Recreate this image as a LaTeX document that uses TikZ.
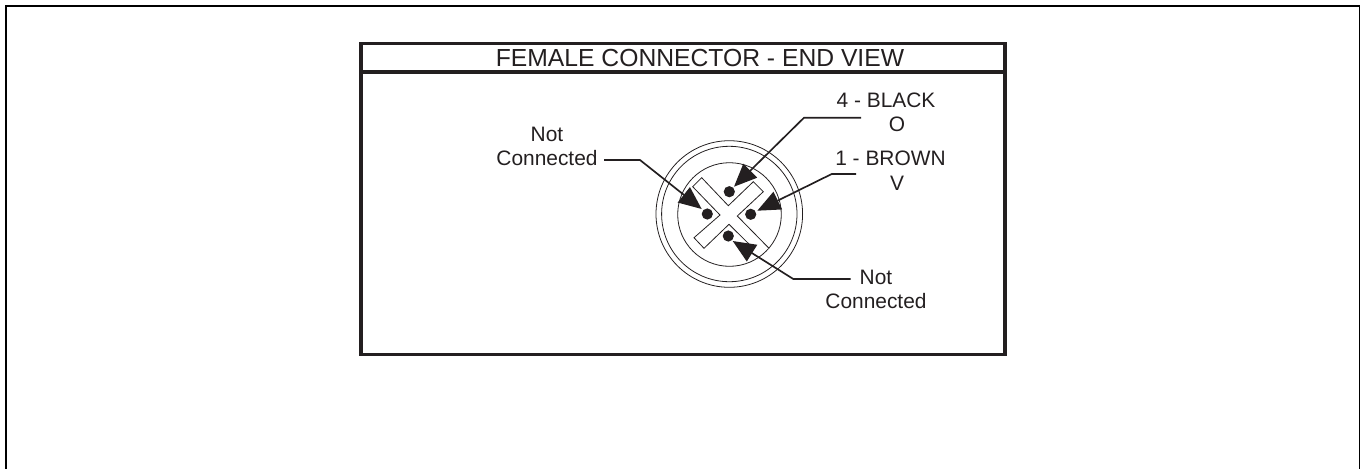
\documentclass[tikz,border=0pt]{standalone}
\usepackage{fontspec}
\setmainfont{Liberation Sans}
\usetikzlibrary{arrows.meta}
\definecolor{inkblack}{HTML}{231F20}
\tikzset{
	leader/.style={line width=0.95pt, color=inkblack, -{Triangle[length=13pt, width=11pt]}},
	thinline/.style={line width=0.45pt, color=inkblack},
	frameline/.style={line width=2pt, color=inkblack},
	callout/.style={anchor=base, font=\fontsize{11.9}{13.4}\selectfont, color=inkblack, inner sep=0pt},
}

\begin{document}
\begin{tikzpicture}[x=0.02cm, y=-0.02cm]
		%%%%% START %%%%%
		\useasboundingbox (0, 0) rectangle (1360, 468);
		\clip (0, 0) rectangle (1360, 468);
		
		\draw[line width=1.15pt, color=black] (6, 475) -- (6, 6) -- (1360, 6) -- (1360, 475);
		
		\draw[frameline] (361, 43.5) rectangle (1005, 354.5);
		\draw[frameline] (361, 72) -- (1005, 72);
		\node (title) [anchor=base, inner sep=0pt, color=inkblack, font=\fontsize{14.05}{16}\selectfont] at (700, 66.5) {FEMALE CONNECTOR - END VIEW};
		
		\draw[thinline] (729.3, 214) circle (73.3);
		\draw[thinline] (729.3, 214) circle (67.7);
		\draw[thinline] (729.5, 214.5) circle (51.8);
		
		\draw[thinline, fill=white] (769, 248.3) -- (737.3, 216) -- (763.3, 191.7) -- (753.3, 181.7) -- (728.3, 205.7) -- (701.7, 177.7) -- (692.7, 186.7) -- (720, 215) -- (694, 237.7) -- (704, 248.3) -- (729, 224.3) -- (752, 247);
		
		\foreach \name/\px/\py in {dotblack/729.3/191.7, dotbrown/750.7/214.3, dotleft/707.3/214, dotbottom/728.3/236} {
			\fill[inkblack] (\px, \py) circle (5.6);
			\coordinate (\name) at (\px, \py);
		}
		
		\node (blacktext) [callout] at (886, 107.3) {4 - BLACK};
		\node (blackpin) [callout] at (897, 131.7) {O};
		\node (browntext) [callout] at (890.5, 165.7) {1 - BROWN};
		\node (brownpin) [callout] at (897, 190) {V};
		\node (lefttext) [callout, align=center] at (547, 165) {Not\\Connected};
		\node (bottomtext) [callout, align=center] at (876, 308) {Not\\Connected};
		
		\coordinate (blackend) at (861, 117.7);
		\coordinate (blackbend) at (804, 117.7);
		\coordinate (blacktip) at (734, 186.7);
		\coordinate (brownend) at (856, 174);
		\coordinate (brownbend) at (831.7, 174);
		\coordinate (browntip) at (757.3, 210.7);
		\coordinate (leftend) at (604, 160);
		\coordinate (leftbend) at (640, 160);
		\coordinate (lefttip) at (701.7, 209);
		\coordinate (bottomend) at (850.7, 279);
		\coordinate (bottombend) at (793.3, 279);
		\coordinate (bottomtip) at (732.7, 241);
		
		\draw[leader] (blackend) -- (blackbend) -- (blacktip);
		\draw[leader] (brownend) -- (brownbend) -- (browntip);
		\draw[leader] (leftend) -- (leftbend) -- (lefttip);
		\draw[leader] (bottomend) -- (bottombend) -- (bottomtip);
		%%%%% END %%%%%
	\end{tikzpicture}
\end{document}
